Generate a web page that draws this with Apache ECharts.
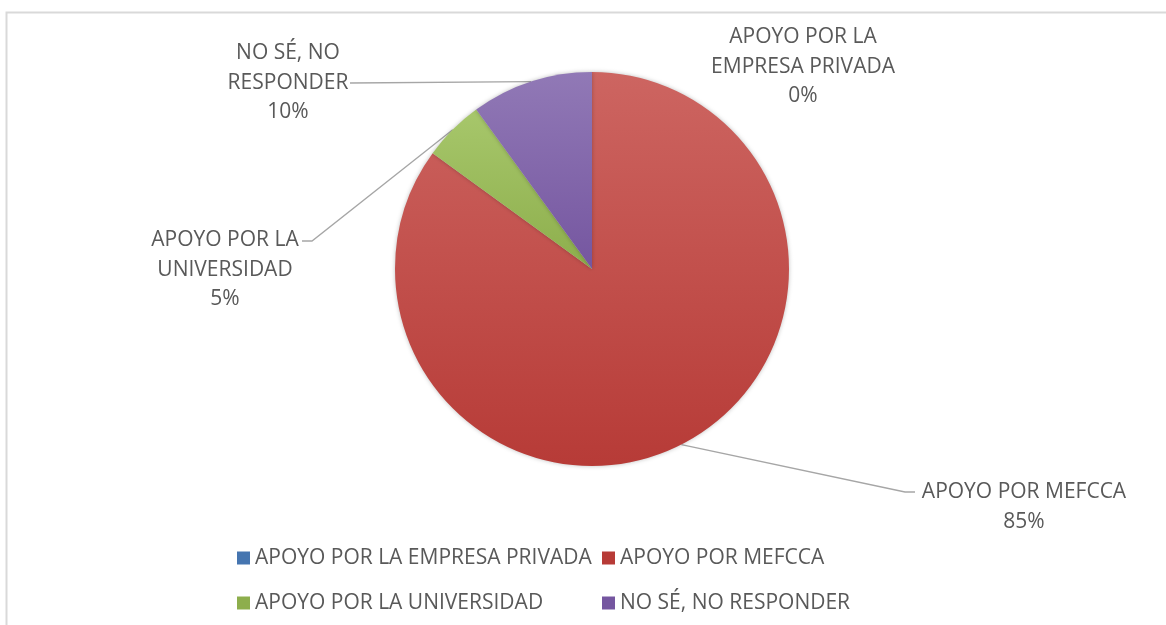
<!DOCTYPE html>
<html>
<head>
<meta charset="utf-8">
<script src="https://cdn.jsdelivr.net/npm/echarts@6/dist/echarts.min.js"></script>
<style>
  html, body { margin: 0; padding: 0; background: #fff; }
  #chart { width: 1166px; height: 625px; }
</style>
</head>
<body>
<div id="chart"></div>
<script>
// categories, in clockwise order from 12 o'clock
const categories = [
  "APOYO POR LA EMPRESA PRIVADA",
  "APOYO POR MEFCCA",
  "APOYO POR LA UNIVERSIDAD",
  "NO SÉ, NO RESPONDER",
];
// wrapped names used by the data labels
const labelNames = [
  "APOYO POR LA\nEMPRESA PRIVADA",
  "APOYO POR MEFCCA",
  "APOYO POR LA\nUNIVERSIDAD",
  "NO SÉ, NO\nRESPONDER",
];
const shares = [0, 85, 5, 10];

// top / bottom shades of each slice (office style gradient)
const sliceColors = [
  ["#5A8CC8", "#4575B0"],
  ["#CD6561", "#B73B37"],
  ["#A7C76B", "#8DAE4C"],
  ["#9179B6", "#7556A0"],
];

const TEXT = "#595959";
const FONT = "'Open Sans', 'Noto Sans', sans-serif";

const grad = (c) => new echarts.graphic.LinearGradient(0, 0, 0, 1, [
  { offset: 0, color: c[0] },
  { offset: 1, color: c[1] },
]);

const chart = echarts.init(document.getElementById("chart"));

// where each data label sits, and the bend of its leader line
const labelSpots = [
  { x: 803, y: 67, line: false },
  { x: 1024, y: 507, bend: [[905, 492], [915, 492]] },
  { x: 225, y: 270, bend: [[312, 241], [302, 241]] },
  { x: 288, y: 83, bend: [[350, 83]] },
];

const legendText = { color: TEXT, fontSize: 21, fontFamily: FONT, lineHeight: 22 };

const option = {
  backgroundColor: "#fff",
  animation: false,
  graphic: [
    {
      type: "rect",
      left: 4,
      top: 10,
      shape: { width: 1180, height: 700 },
      style: { fill: "none", stroke: "#d9d9d9", lineWidth: 2 },
      silent: true,
    },
  ],
  legend: [
    {
      orient: "vertical",
      left: 232,
      top: 542,
      itemWidth: 13,
      itemHeight: 13,
      itemGap: 23,
      icon: "rect",
      data: [categories[0], categories[2]],
      textStyle: legendText,
    },
    {
      orient: "vertical",
      left: 597,
      top: 542,
      itemWidth: 13,
      itemHeight: 13,
      itemGap: 23,
      icon: "rect",
      data: [categories[1], categories[3]],
      textStyle: legendText,
    },
  ],
  series: [
    {
      type: "pie",
      center: [592, 269],
      radius: 197,
      startAngle: 90,
      clockwise: true,
      avoidLabelOverlap: false,
      itemStyle: {
        borderWidth: 0,
        shadowBlur: 4,
        shadowColor: "rgba(0,0,0,0.25)",
      },
      label: {
        show: true,
        color: TEXT,
        fontSize: 21,
        fontFamily: FONT,
        lineHeight: 29.5,
        align: "center",
        formatter: (p) => labelNames[p.dataIndex] + "\n" + Math.round(p.percent) + "%",
      },
      labelLine: {
        show: true,
        lineStyle: { color: "#a6a6a6", width: 1.3 },
      },
      labelLayout: (params) => {
        const spot = labelSpots[params.dataIndex];
        const out = {
          x: spot.x,
          y: spot.y,
          align: "center",
          verticalAlign: "middle",
        };
        if (spot.bend && params.labelLinePoints) {
          out.labelLinePoints = [params.labelLinePoints[0]].concat(spot.bend);
        }
        return out;
      },
      data: categories.map((name, i) => ({
        name: name,
        value: shares[i],
        itemStyle: { color: grad(sliceColors[i]) },
        labelLine: { show: labelSpots[i].line !== false },
      })),
    },
  ],
};

// legend icons use the flat colour
option.legend.forEach((lg) => {
  lg.data = lg.data.map((n) => ({
    name: n,
    itemStyle: { color: sliceColors[categories.indexOf(n)][1] },
  }));
});

chart.setOption(option);
</script>
</body>
</html>
